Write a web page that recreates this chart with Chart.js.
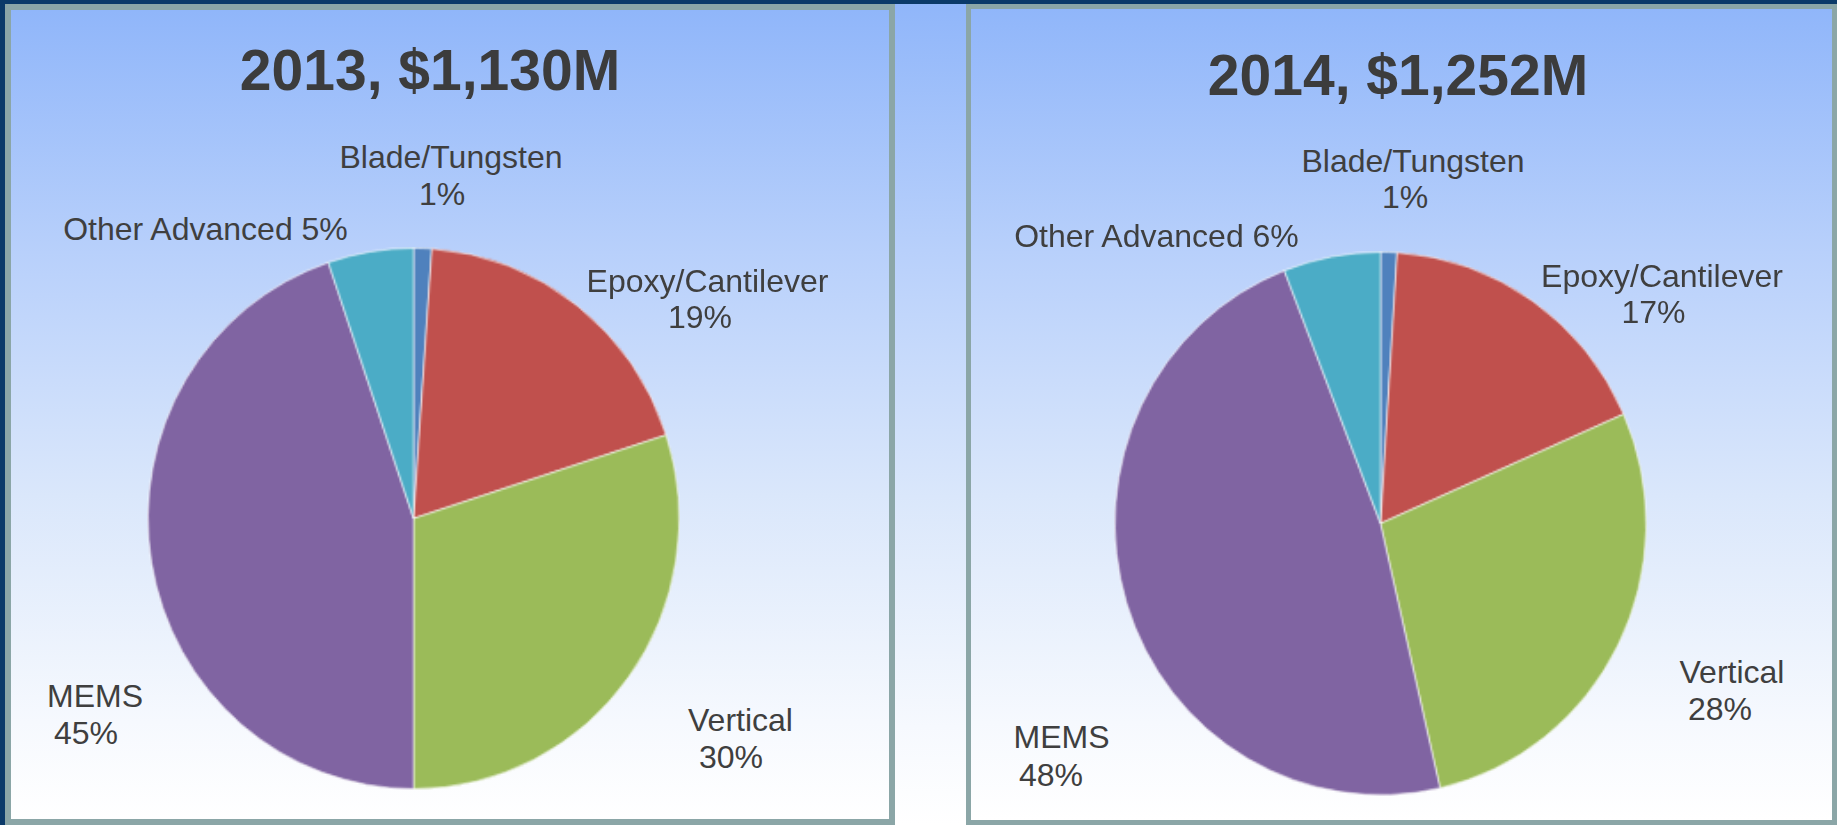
<!DOCTYPE html>
<html>
<head>
<meta charset="utf-8">
<script src="https://cdn.jsdelivr.net/npm/chart.js@4.4.1/dist/chart.umd.min.js"></script>
<style>
  html, body { margin: 0; padding: 0; }
  body { width: 1837px; height: 825px; background: #0b3a69; position: relative; overflow: hidden;
         font-family: "Liberation Sans", Arial, sans-serif; }
  #bg { position: absolute; left: 5px; top: 4px; right: 0; bottom: 0;
        background: linear-gradient(to bottom, #90b6fa 0%, #b8d0fb 30%, #dae7fb 60%, #f6f9fe 88%, #ffffff 100%); }
  .panel { position: absolute; box-sizing: border-box; border: 6px solid #8ba6a7;
           background: linear-gradient(to bottom, #90b6fa 0%, #b8d0fb 30%, #dae7fb 60%, #f6f9fe 88%, #ffffff 100%); }
  #p1 { left: 5px; top: 4px; width: 890px; height: 821px; }
  #p2 { left: 966px; top: 4px; width: 871px; height: 821px; border-width: 5px; }
  canvas { position: absolute; transform-origin: 50% 50%; }
  .t { position: absolute; white-space: nowrap; line-height: 1; color: #3f3f3f; }
  .title { font-weight: bold; color: #3c3c3c; }
</style>
</head>
<body>
<div id="bg"></div>
<div class="panel" id="p1"></div>
<div class="panel" id="p2"></div>
<canvas id="c1"></canvas>
<canvas id="c2"></canvas>
<div id="texts"></div>
<script>
// ---- data ----
const categories = ['Blade/Tungsten', 'Epoxy/Cantilever', 'Vertical', 'MEMS', 'Other Advanced'];
const values2013 = [1.1, 18.9, 30.0, 44.8, 5.2];
const values2014 = [1.0, 17.4, 28.0, 47.7, 5.9];
const chartTitles = ['2013, $1,130M', '2014, $1,252M'];
const sliceColors = ['#4F81BD', '#C0504D', '#9BBB59', '#8064A2', '#4BACC6'];

// ---- layout (positions only) ----
const R = 266;
const pies = [
  { id: 'c1', cx: 413.5, cy: 518, sy: 1.018, values: values2013, title: chartTitles[0], tx: 430, tb: 90,
    labels: [
      { lines: [[451, 168], [442, 205]] },
      { lines: [[707.5, 292], [700, 328]] },
      { lines: [[740.5, 731], [731, 768]] },
      { lines: [[95, 707], [86, 744]] },
      { single: [205.5, 240] }
    ] },
  { id: 'c2', cx: 1380, cy: 523, sy: 1.022, values: values2014, title: chartTitles[1], tx: 1398, tb: 95,
    labels: [
      { lines: [[1413, 172], [1405, 208]] },
      { lines: [[1662, 287], [1653.5, 323]] },
      { lines: [[1732, 683], [1720, 720]] },
      { lines: [[1061.5, 748], [1051, 786]] },
      { single: [1156.5, 247] }
    ] }
];

const texts = document.getElementById('texts');
function addText(str, cx, baseline, size, cls) {
  const d = document.createElement('div');
  d.className = 't' + (cls ? ' ' + cls : '');
  d.textContent = str;
  d.style.fontSize = size + 'px';
  d.style.left = cx + 'px';
  d.style.top = (baseline - 0.8465 * size) + 'px';
  d.style.transform = 'translateX(-50%)';
  texts.appendChild(d);
}

pies.forEach(p => {
  const cv = document.getElementById(p.id);
  const size = 2 * R + 1;
  cv.style.left = (p.cx - size / 2) + 'px';
  cv.style.top = (p.cy - size / 2) + 'px';
  new Chart(cv, {
    type: 'pie',
    data: {
      labels: categories,
      datasets: [{
        data: p.values,
        backgroundColor: sliceColors,
        borderColor: 'rgba(255,255,255,0.55)',
        borderWidth: 1
      }]
    },
    options: {
      responsive: false,
      animation: false,
      events: [],
      layout: { padding: 0 },
      plugins: { legend: { display: false }, tooltip: { enabled: false }, title: { display: false } }
    }
  });
  cv.width; // size set below
  cv.style.width = size + 'px';
  cv.style.height = size + 'px';
  cv.style.transform = 'scale(1,' + p.sy + ')';

  addText(p.title, p.tx, p.tb, 57, 'title');
  p.labels.forEach((L, i) => {
    const pct = Math.round(p.values[i]) + '%';
    if (L.single) {
      addText(categories[i] + ' ' + pct, L.single[0], L.single[1], 32);
    } else {
      addText(categories[i], L.lines[0][0], L.lines[0][1], 32);
      addText(pct, L.lines[1][0], L.lines[1][1], 32);
    }
  });
});
</script>
</body>
</html>
